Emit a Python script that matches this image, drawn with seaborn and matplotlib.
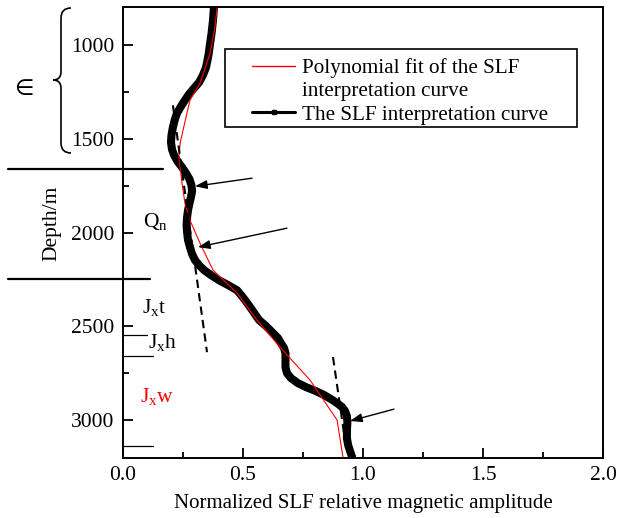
import numpy as np
import pandas as pd
import matplotlib
matplotlib.use("Agg")
import matplotlib.pyplot as plt
import seaborn as sns
from matplotlib.lines import Line2D
from matplotlib.path import Path
from matplotlib.patches import PathPatch, Rectangle
from matplotlib.transforms import blended_transform_factory
from matplotlib.ticker import MultipleLocator, FormatStrFormatter

# SLF interpretation curve (normalized amplitude vs depth, m)
slf_amp = [0.379, 0.375, 0.369, 0.363, 0.356, 0.346, 0.333, 0.317, 0.296, 0.275,
           0.258, 0.242, 0.225, 0.215, 0.208, 0.202, 0.200, 0.204, 0.213, 0.227,
           0.246, 0.263, 0.277, 0.285, 0.288, 0.283, 0.277, 0.271, 0.267, 0.265,
           0.267, 0.271, 0.279, 0.288, 0.300, 0.317, 0.338, 0.367, 0.400, 0.438,
           0.475, 0.496, 0.515, 0.533, 0.550, 0.567, 0.596, 0.621, 0.646, 0.658,
           0.671, 0.677, 0.677, 0.677, 0.683, 0.700, 0.729, 0.763, 0.804, 0.838,
           0.867, 0.892, 0.913, 0.925, 0.933, 0.935, 0.933, 0.933, 0.938, 0.946,
           0.956]
slf_depth = [802, 871, 940, 993, 1057, 1121, 1163, 1201, 1232, 1264,
             1296, 1328, 1365, 1403, 1440, 1482, 1520, 1557, 1589, 1621,
             1653, 1685, 1716, 1748, 1780, 1812, 1844, 1881, 1919, 1961,
             1998, 2041, 2078, 2115, 2147, 2174, 2200, 2227, 2254, 2280,
             2307, 2339, 2371, 2403, 2435, 2466, 2498, 2530, 2562, 2589,
             2615, 2642, 2679, 2716, 2748, 2775, 2802, 2823, 2844, 2865,
             2887, 2908, 2929, 2950, 2977, 3009, 3052, 3094, 3131, 3163,
             3200]

# Polynomial fit of the curve
fit_amp = [0.392, 0.383, 0.363, 0.321, 0.279, 0.250, 0.238, 0.233, 0.246, 0.258,
           0.279, 0.321, 0.375, 0.475, 0.558, 0.654, 0.779, 0.892, 0.917]
fit_depth = [802, 908, 1046, 1206, 1296, 1456, 1525, 1600, 1738, 1844,
             1935, 2057, 2200, 2322, 2466, 2610, 2785, 2998, 3200]

# Trend lines (dashed)
trend1_amp = [0.208, 0.350]
trend1_depth = [1323, 2637]
trend2_amp = [0.875, 0.925]
trend2_depth = [2663, 3105]

# Arrows: (tail amp, tail depth, tip amp, tip depth)
arrows = [(0.5375, 1711, 0.300, 1754),
          (0.683, 1977, 0.3125, 2078),
          (1.129, 2940, 0.946, 3003)]

# Stratigraphic boundaries
major_bounds = [1663, 2250]
minor_bounds = [2546, 2658, 3137]
minor_bound_len = [0.10, 0.125, 0.125]

# Formation labels: (text, amp, depth, colour)
formations = [(r"Q$_\mathregular{n}$", 0.085, 1970, "black"),
              (r"J$_\mathregular{x}$t", 0.080, 2430, "black"),
              (r"J$_\mathregular{x}$h", 0.106, 2612, "black"),
              (r"J$_\mathregular{x}$w", 0.071, 2900, "red")]

sns.set_theme(style="ticks")
plt.rcParams["font.family"] = ["Liberation Serif", "DejaVu Serif"]
plt.rcParams["mathtext.fontset"] = "custom"
plt.rcParams["mathtext.rm"] = "Liberation Serif"
plt.rcParams["mathtext.it"] = "Liberation Serif:italic"
plt.rcParams["text.color"] = "black"
plt.rcParams["axes.labelcolor"] = "black"

W, H = 620, 518
fig = plt.figure(figsize=(W / 100, H / 100), dpi=100)
ax = fig.add_axes([123 / W, 1 - 458 / H, 480 / W, 451 / H])

df_slf = pd.DataFrame({"amp": slf_amp, "depth": slf_depth})
df_fit = pd.DataFrame({"amp": fit_amp, "depth": fit_depth})

sns.lineplot(data=df_slf, x="amp", y="depth", sort=False, estimator=None,
             color="black", linewidth=5.8, ax=ax,
             solid_joinstyle="round", solid_capstyle="butt")
sns.lineplot(data=df_fit, x="amp", y="depth", sort=False, estimator=None,
             color="red", linewidth=0.8, ax=ax)

for xs, ds in [(trend1_amp, trend1_depth), (trend2_amp, trend2_depth)]:
    ax.plot(xs, ds, color="black", linewidth=1.5, linestyle=(0, (4, 2.5)))

for x0, d0, x1, d1 in arrows:
    ax.annotate("", xy=(x1, d1), xytext=(x0, d0),
                arrowprops=dict(arrowstyle="-|>,head_length=0.6,head_width=0.22",
                                color="black", lw=1.0, shrinkA=0, shrinkB=0))

ax.set_xlim(0, 2.0)
ax.set_ylim(3200, 800)
ax.xaxis.set_major_locator(MultipleLocator(0.5))
ax.xaxis.set_minor_locator(MultipleLocator(0.25))
ax.yaxis.set_major_locator(MultipleLocator(500))
ax.yaxis.set_minor_locator(MultipleLocator(250))
ax.xaxis.set_major_formatter(FormatStrFormatter("%.1f"))
ax.tick_params(which="both", direction="in", top=False, right=False,
               labelsize=15.5, width=1.3, colors="black")
ax.tick_params(which="major", length=7, pad=6)
ax.tick_params(which="minor", length=4)
for sp in ax.spines.values():
    sp.set_linewidth(1.4)
    sp.set_color("black")

ax.set_xlabel("Normalized SLF relative magnetic amplitude", fontsize=15, labelpad=6)
ax.set_ylabel("")
fig.text(52 / W, 1 - 223 / H, "Depth/m", rotation=90, fontsize=15.5,
         ha="center", va="center")

# Boundary lines reaching into the left margin
fig_y = blended_transform_factory(fig.transFigure, ax.transData)
ax.plot([8 / W, 163 / W], [major_bounds[0]] * 2, color="black", lw=1.6,
        transform=fig_y, clip_on=False)
ax.plot([8 / W, 150 / W], [major_bounds[1]] * 2, color="black", lw=1.6,
        transform=fig_y, clip_on=False)
for d, ln in zip(minor_bounds, minor_bound_len):
    ax.plot([0, ln], [d, d], color="black", lw=0.9)

for txt, x, d, c in formations:
    ax.text(x, d, txt, color=c, fontsize=15.5, ha="left", va="baseline")

# Cambrian brace and symbol
def fp(x, y):
    return (x / W, 1 - y / H)
verts = [fp(71, 8), fp(61, 8), fp(61, 18), fp(61, 72), fp(61, 80), fp(53, 80),
         fp(61, 80), fp(61, 88), fp(61, 143), fp(61, 153), fp(71, 153)]
codes = [Path.MOVETO, Path.CURVE3, Path.CURVE3, Path.LINETO, Path.CURVE3, Path.CURVE3,
         Path.CURVE3, Path.CURVE3, Path.LINETO, Path.CURVE3, Path.CURVE3]
fig.add_artist(PathPatch(Path(verts, codes), transform=fig.transFigure,
                         fill=False, lw=1.2, color="black"))
fig.text(24 / W, 1 - 89 / H, "\u2208", fontsize=16, ha="center", va="center",
         family=["DejaVu Sans"])

# Legend with a hand-drawn frame
legend_handles = [Line2D([], [], color="red", lw=1.0),
                  Line2D([], [], color="none"),
                  Line2D([], [], color="black", lw=2.2, marker="s", markersize=3)]
legend_labels = ["Polynomial fit of the SLF", "interpretation curve",
                 "The SLF interpretation curve"]
leg = fig.legend(legend_handles, legend_labels, loc="upper left",
                 bbox_to_anchor=(252 / W, 1 - 58 / H),
                 fontsize=15.2, frameon=False,
                 handlelength=2.04, handletextpad=0.33, labelspacing=0.17,
                 borderpad=0, borderaxespad=0)
fig.add_artist(Rectangle(fp(225, 127), 352 / W, 78 / H, transform=fig.transFigure,
                         fill=True, facecolor="white", edgecolor="black", lw=1.2,
                         zorder=4))
leg.set_zorder(5)

fig.savefig("out.png", dpi=100)
